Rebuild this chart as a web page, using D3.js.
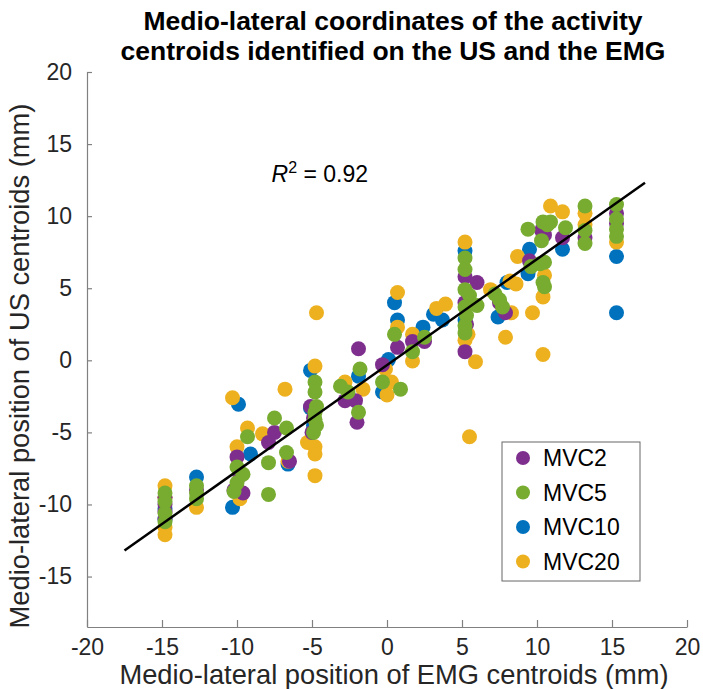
<!DOCTYPE html>
<html>
<head>
<meta charset="utf-8">
<script src="https://cdn.jsdelivr.net/npm/d3@7"></script>
<style>
  body { margin: 0; background: #fff; }
  svg { font-family: "Liberation Sans", Arial, Helvetica, sans-serif; }
</style>
</head>
<body>
<div id="chart"></div>
<script>
// series names and colours (MATLAB default palette)
var seriesNames = ["MVC2", "MVC5", "MVC10", "MVC20"];
var seriesColors = ["#7E2F8E", "#77AC30", "#0072BD", "#EDB120"];

// [EMG x, US y] in mm
var mvc2 = [[-14.8,-9.5],[-14.8,-10.0],[-14.8,-10.5],[-14.8,-11.0],
  [-12.7,-9.0],
  [-10.0,-6.7],[-9.6,-9.2],[-10.2,-9.0],[-9.8,-8.0],
  [-7.9,-5.7],[-7.5,-5.0],[-6.5,-7.0],
  [-5.1,-3.2],[-4.9,-4.0],[-5.0,-5.0],
  [-1.9,0.8],[-2.8,-2.8],[-2.1,-2.8],[-2.0,-4.3],
  [-0.3,-0.3],[0.7,0.9],
  [1.7,1.3],[2.5,1.3],
  [5.2,5.8],[6.0,5.4],[5.2,0.6],[5.2,4.0],[5.3,2.5],
  [7.9,3.3],[7.5,4.0],
  [9.5,6.9],[10.3,9.0],[10.5,8.7],[11.7,8.5],
  [13.2,8.5],[15.3,10.2],[15.3,9.5]];

var mvc5 = [[-14.8,-9.2],[-14.8,-9.8],[-14.8,-10.6],[-14.8,-11.2],
  [-12.7,-8.7],[-12.7,-9.2],[-12.7,-9.6],
  [-9.3,-5.3],[-10.0,-7.4],[-9.6,-7.9],[-10.0,-8.5],[-10.2,-9.1],
  [-7.5,-4.0],[-7.9,-7.1],[-7.9,-9.3],[-6.7,-4.7],[-6.7,-6.4],
  [-4.8,-1.5],[-4.8,-2.2],[-4.7,-3.2],[-4.8,-3.6],[-4.8,-4.1],[-4.7,-4.5],[-4.9,-5.0],
  [-1.8,-0.6],[-3.1,-1.8],[-2.6,-2.2],[-1.9,-3.6],
  [-0.3,-1.5],[0.9,-2.0],[0.5,1.8],
  [1.7,0.6],[2.5,1.6],
  [5.2,7.1],[5.2,6.3],[5.2,4.9],[5.5,4.5],[6.0,3.8],[5.2,3.7],[5.3,3.1],[5.2,2.4],[5.2,1.9],
  [7.2,4.6],[7.5,4.2],[7.7,3.7],
  [9.4,9.1],[9.6,6.5],[10.2,6.7],[10.4,5.4],[10.4,9.6],[10.9,9.6],[10.3,8.3],[10.7,9.4],
  [11.9,9.2],[10.5,6.8],[10.5,5.1],
  [13.2,10.7],[13.2,9.0],[13.2,8.1],
  [15.3,10.8],[15.3,9.8],[15.3,9.1],[15.3,8.6]];

var mvc10 = [[-14.8,-10.3],[-14.8,-11.0],
  [-12.7,-8.1],
  [-9.9,-3.05],[-9.1,-6.5],[-10.3,-10.2],
  [-6.6,-7.2],
  [-5.1,-0.7],[-5.1,-3.3],[-4.9,-4.5],
  [-1.9,-1.1],
  [0.1,0.05],[-0.3,-2.2],[0.5,4.0],[0.7,2.8],
  [2.4,2.3],[3.1,3.2],[3.7,2.8],
  [5.2,7.6],[5.2,2.8],
  [8.0,5.4],[7.4,3.0],
  [9.5,7.7],[9.4,6.0],[11.7,7.7],
  [15.3,7.2],[15.3,3.3]];

var mvc20 = [[-14.8,-8.7],[-14.8,-11.6],[-14.8,-12.1],[-14.8,-9.5],
  [-12.7,-10.2],
  [-10.3,-2.6],[-9.3,-4.7],[-10.0,-6.0],[-9.8,-9.6],
  [-8.3,-5.1],[-6.8,-2.0],[-6.6,-7.0],
  [-4.7,3.3],[-4.8,-0.4],[-5.3,-5.7],[-4.8,-6.0],[-4.8,-6.5],[-4.8,-8.0],
  [-2.8,-1.5],[-1.6,-2.0],
  [-0.1,-0.6],[0.3,-1.5],[0.0,-2.4],[0.7,4.7],[0.7,2.3],
  [1.7,-0.05],[1.7,1.8],
  [3.9,3.9],[3.3,3.6],
  [5.2,8.2],[5.4,1.8],[5.2,1.4],[5.9,-0.1],[5.5,-5.3],
  [6.9,4.9],[8.3,3.3],[7.9,1.6],[8.2,5.5],[8.6,5.3],
  [8.7,7.2],[9.7,3.3],[10.4,4.4],[10.4,0.4],[10.9,10.7],[11.7,10.3],[10.5,5.9],
  [13.2,10.2],[13.2,9.4],
  [15.3,8.2]];

var seriesData = [mvc2, mvc5, mvc10, mvc20];
// plotting order, back to front
var drawOrder = [2, 3, 0, 1];

// linear fit shown on the chart
var fitRange = [-17.5, 17.2];
var fitSlope = 0.735;
var fitIntercept = -0.33;
var rSquared = "0.92";

var xTicks = [-20, -15, -10, -5, 0, 5, 10, 15, 20];
var yTicks = [-15, -10, -5, 0, 5, 10, 15, 20];

var titleLines = ["Medio-lateral coordinates of the activity", "centroids identified on the US and the EMG"];
var xLabel = "Medio-lateral position of EMG centroids (mm)";
var yLabel = "Medio-lateral position of US centroids (mm)";

var width = 703, height = 689;
var plotLeft = 87, plotRight = 687, plotTop = 72, plotBottom = 627;
var axisColor = "#808080";
var textColor = "#262626";

var svg = d3.select("#chart").append("svg")
  .attr("width", width)
  .attr("height", height);

var x = d3.scaleLinear().domain([-20, 20]).range([plotLeft, plotRight]);
var y = d3.scaleLinear().domain([-18.5, 20]).range([plotBottom, plotTop]);

var plainNum = function(d) { return String(d); };

// axes
var xAxis = svg.append("g")
  .attr("transform", "translate(0," + plotBottom + ")")
  .call(d3.axisBottom(x).tickValues(xTicks).tickFormat(plainNum)
    .tickSizeInner(-7).tickSizeOuter(0).tickPadding(12));
var yAxis = svg.append("g")
  .attr("transform", "translate(" + plotLeft + ",0)")
  .call(d3.axisLeft(y).tickValues(yTicks).tickFormat(plainNum)
    .tickSizeInner(-5).tickSizeOuter(0).tickPadding(15));

[xAxis, yAxis].forEach(function(a) {
  a.select(".domain").attr("stroke", axisColor).attr("stroke-width", 1.2);
  a.selectAll(".tick line").attr("stroke", axisColor).attr("stroke-width", 1.2);
  a.selectAll(".tick text")
    .attr("fill", textColor)
    .style("font-size", "23px")
    .style("font-family", "'Liberation Sans', Arial, sans-serif");
});
xAxis.selectAll(".tick text").attr("dy", "0.71em");

// points
var container = svg.append("g");
drawOrder.forEach(function(i) {
  container.append("g").selectAll("circle")
    .data(seriesData[i])
    .enter().append("circle")
    .attr("cx", function(d) { return x(d[0]); })
    .attr("cy", function(d) { return y(d[1]); })
    .attr("r", 7.5)
    .attr("fill", seriesColors[i]);
});

// regression line
svg.append("line")
  .attr("x1", x(fitRange[0]))
  .attr("y1", y(fitSlope * fitRange[0] + fitIntercept))
  .attr("x2", x(fitRange[1]))
  .attr("y2", y(fitSlope * fitRange[1] + fitIntercept))
  .attr("stroke", "#000")
  .attr("stroke-width", 2.5);

// R^2 annotation
var r2 = svg.append("text")
  .attr("x", x(-7.7))
  .attr("y", y(12.4))
  .attr("fill", "#000")
  .style("font-size", "23px");
r2.append("tspan").style("font-style", "italic").text("R");
r2.append("tspan").attr("dy", -9).style("font-size", "16px").text("2");
r2.append("tspan").attr("dy", 9).text(" = " + rSquared);

// title
svg.append("g").selectAll("text")
  .data(titleLines)
  .enter().append("text")
  .attr("x", 393)
  .attr("y", function(d, i) { return 30 + i * 30; })
  .attr("text-anchor", "middle")
  .attr("fill", "#000")
  .style("font-size", "26.5px")
  .style("font-weight", "bold")
  .text(function(d) { return d; });

// axis labels
svg.append("text")
  .attr("x", 394)
  .attr("y", 684)
  .attr("text-anchor", "middle")
  .attr("fill", textColor)
  .style("font-size", "27.3px")
  .text(xLabel);

svg.append("text")
  .attr("transform", "translate(29,366) rotate(-90)")
  .attr("text-anchor", "middle")
  .attr("fill", textColor)
  .style("font-size", "27.3px")
  .text(yLabel);

// legend
var legend = svg.append("g").attr("transform", "translate(502,442)");
legend.append("rect")
  .attr("width", 138)
  .attr("height", 139)
  .attr("fill", "#fff")
  .attr("stroke", "#666")
  .attr("stroke-width", 1);
var items = legend.selectAll(".item")
  .data(seriesNames)
  .enter().append("g")
  .attr("transform", function(d, i) { return "translate(0," + (16 + i * 34.5) + ")"; });
items.append("circle")
  .attr("cx", 21)
  .attr("r", 7)
  .attr("fill", function(d, i) { return seriesColors[i]; });
items.append("text")
  .attr("x", 41)
  .attr("dy", "0.35em")
  .attr("fill", "#000")
  .style("font-size", "23px")
  .text(function(d) { return d; });
</script>
</body>
</html>
